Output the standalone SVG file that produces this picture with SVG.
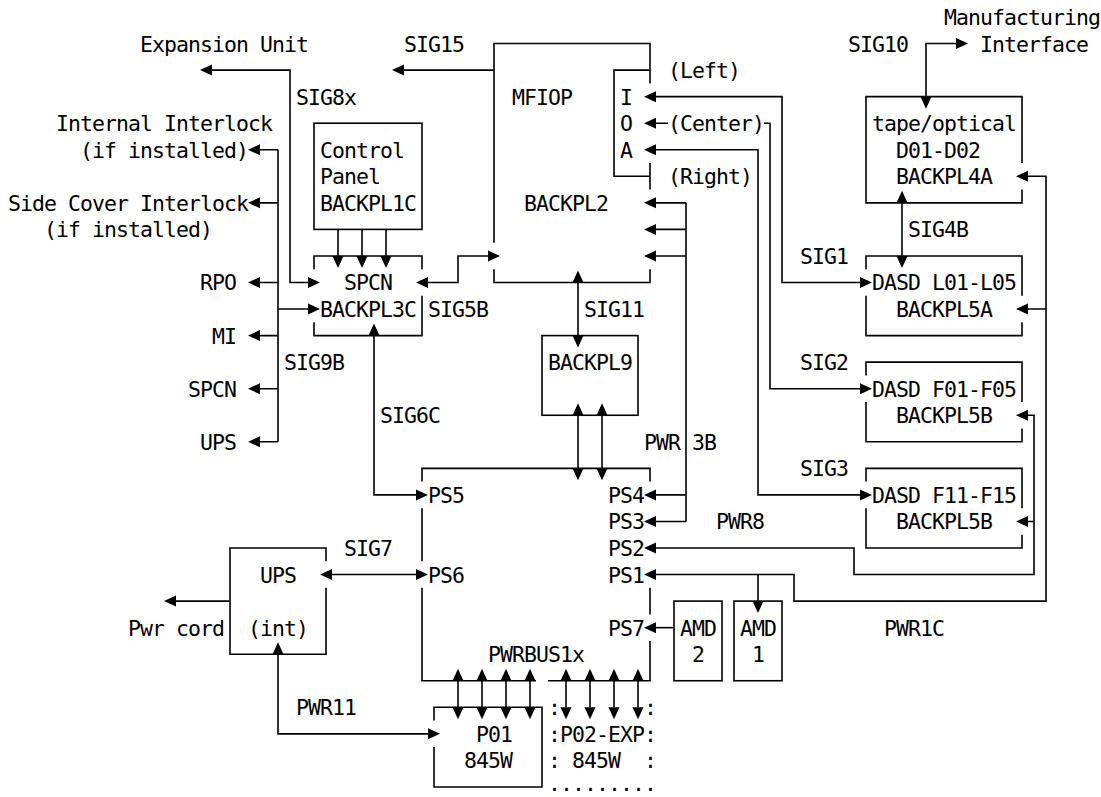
<svg xmlns="http://www.w3.org/2000/svg" width="1101" height="797" viewBox="0 0 1101 797">
<style>
text{font-family:"DejaVu Sans Mono","Liberation Mono",monospace;font-size:21.5px;letter-spacing:-0.94px;fill:#000}
.ln{fill:none;stroke:#000;stroke-width:1.6}
.bx{fill:none;stroke:#000;stroke-width:1.6}
.ah{fill:#000}
</style>
<defs>
<path id="aL" class="ah" d="M-6,0 L6,-5.5 L6,5.5 Z"/>
<path id="aR" class="ah" d="M6,0 L-6,-5.5 L-6,5.5 Z"/>
<path id="aU" class="ah" d="M0,-12 L-5.5,0 L5.5,0 Z"/>
<path id="aD" class="ah" d="M0,12 L-5.5,0 L5.5,0 Z"/>
</defs>
<rect width="1101" height="797" fill="#fff"/>

<g id="connectors">
<path class="ln" d="M206,70.1 H290 V282.5 H314"/>
<use href="#aL" x="206" y="70.1"/><use href="#aR" x="314" y="282.5"/>
<path class="ln" d="M278,149.75 V441.8 M254,149.75 H278 M254,202.85 H278 M254,282.5 H278 M278,309.05 H314 M254,335.6 H278 M254,388.7 H278 M254,441.8 H278"/>
<use href="#aL" x="254" y="149.75"/><use href="#aL" x="254" y="202.85"/><use href="#aL" x="254" y="282.5"/><use href="#aR" x="314" y="309.05"/><use href="#aL" x="254" y="335.6"/><use href="#aL" x="254" y="388.7"/><use href="#aL" x="254" y="441.8"/>
<path class="ln" d="M338,229.4 V255.95 M362,229.4 V255.95 M386,229.4 V255.95"/>
<use href="#aD" x="338" y="255.95"/><use href="#aD" x="362" y="255.95"/><use href="#aD" x="386" y="255.95"/>
<path class="ln" d="M398,70.1 H494"/>
<use href="#aL" x="398" y="70.1"/>
<path class="ln" d="M422,282.5 H458 V255.95 H494"/>
<use href="#aL" x="422" y="282.5"/><use href="#aR" x="494" y="255.95"/>
<path class="ln" d="M578,282.5 V335.6"/>
<use href="#aU" x="578" y="282.5"/><use href="#aD" x="578" y="335.6"/>
<path class="ln" d="M578,415.25 V468.35 M602,415.25 V468.35"/>
<use href="#aU" x="578" y="415.25"/><use href="#aU" x="602" y="415.25"/><use href="#aD" x="578" y="468.35"/><use href="#aD" x="602" y="468.35"/>
<path class="ln" d="M374,335.6 V494.9 H422"/>
<use href="#aU" x="374" y="335.6"/><use href="#aR" x="422" y="494.9"/>
<path class="ln" d="M686,202.85 V521.45 M650,202.85 H686 M650,229.4 H686 M650,255.95 H686 M650,494.9 H686 M650,521.45 H686"/>
<use href="#aL" x="650" y="202.85"/><use href="#aL" x="650" y="229.4"/><use href="#aL" x="650" y="255.95"/><use href="#aL" x="650" y="494.9"/><use href="#aL" x="650" y="521.45"/>
<path class="ln" d="M650,96.65 H782 V282.5 H866"/>
<use href="#aL" x="650" y="96.65"/><use href="#aR" x="866" y="282.5"/>
<path class="ln" d="M650,123.2 H668 M764,123.2 H770 V388.7 H866"/>
<use href="#aL" x="650" y="123.2"/><use href="#aR" x="866" y="388.7"/>
<path class="ln" d="M650,149.75 H758 V494.9 H866"/>
<use href="#aL" x="650" y="149.75"/><use href="#aR" x="866" y="494.9"/>
<path class="ln" d="M926,96.65 V43.55 H962"/>
<use href="#aD" x="926" y="96.65"/><use href="#aR" x="962" y="43.55"/>
<path class="ln" d="M902,202.85 V255.95"/>
<use href="#aU" x="902" y="202.85"/><use href="#aD" x="902" y="255.95"/>
<path class="ln" d="M650,548 H854 V574.55 H1034 V415.25 H1022 M1034,521.45 H1022"/>
<use href="#aL" x="650" y="548"/><use href="#aL" x="1022" y="415.25"/><use href="#aL" x="1022" y="521.45"/>
<path class="ln" d="M650,574.55 H794 V601.1 H1046 V176.3 H1022 M1046,309.05 H1022 M758,574.55 V601.1"/>
<use href="#aL" x="650" y="574.55"/><use href="#aL" x="1022" y="176.3"/><use href="#aL" x="1022" y="309.05"/><use href="#aD" x="758" y="601.1"/>
<path class="ln" d="M650,627.65 H674"/>
<use href="#aL" x="650" y="627.65"/>
<path class="ln" d="M326,574.55 H422"/>
<use href="#aL" x="326" y="574.55"/><use href="#aR" x="422" y="574.55"/>
<path class="ln" d="M170,601.1 H230"/>
<use href="#aL" x="170" y="601.1"/>
<path class="ln" d="M278,654.2 V733.85 H434"/>
<use href="#aU" x="278" y="654.2"/><use href="#aR" x="434" y="733.85"/>
<path class="ln" d="M458,680.75 V707.3 M482,680.75 V707.3 M506,680.75 V707.3 M530,680.75 V707.3 M566,680.75 V707.3 M590,680.75 V707.3 M614,680.75 V707.3 M638,680.75 V707.3"/>
<use href="#aU" x="458" y="680.75"/><use href="#aU" x="482" y="680.75"/><use href="#aU" x="506" y="680.75"/><use href="#aU" x="530" y="680.75"/><use href="#aU" x="566" y="680.75"/><use href="#aU" x="590" y="680.75"/><use href="#aU" x="614" y="680.75"/><use href="#aU" x="638" y="680.75"/>
<use href="#aD" x="458" y="707.3"/><use href="#aD" x="482" y="707.3"/><use href="#aD" x="506" y="707.3"/><use href="#aD" x="530" y="707.3"/><use href="#aD" x="566" y="707.3"/><use href="#aD" x="590" y="707.3"/><use href="#aD" x="614" y="707.3"/><use href="#aD" x="638" y="707.3"/>
</g>

<g id="labels">
<text x="944" y="24.9">Manufacturing</text>
<text x="980" y="51.5">Interface</text>
<text x="848" y="51.5">SIG10</text>
<text x="140" y="51.5">Expansion Unit</text>
<text x="404" y="51.5">SIG15</text>
<text x="668" y="78">(Left)</text>
<text x="296" y="104.6">SIG8x</text>
<text x="56" y="131.1">Internal Interlock</text>
<text x="668" y="131.1">(Center)</text>
<text x="80" y="157.6">(if installed)</text>
<text x="668" y="184.2">(Right)</text>
<text x="8" y="210.8">Side Cover Interlock</text>
<text x="44" y="237.3">(if installed)</text>
<text x="908" y="237.3">SIG4B</text>
<text x="800" y="263.9">SIG1</text>
<text x="200" y="290.4">RPO</text>
<text x="428" y="317">SIG5B</text>
<text x="584" y="317">SIG11</text>
<text x="212" y="343.5">MI</text>
<text x="284" y="370.1">SIG9B</text>
<text x="800" y="370.1">SIG2</text>
<text x="188" y="396.6">SPCN</text>
<text x="380" y="423.2">SIG6C</text>
<text x="644" y="449.7">PWR</text>
<text x="692" y="449.7">3B</text>
<text x="200" y="449.7">UPS</text>
<text x="800" y="476.3">SIG3</text>
<text x="716" y="529.4">PWR8</text>
<text x="344" y="555.9">SIG7</text>
<text x="128" y="635.6">Pwr cord</text>
<text x="884" y="635.6">PWR1C</text>
<text x="296" y="715.2">PWR11</text>
</g>

<g id="control-panel">
<rect class="bx" x="314" y="123.2" width="108" height="106.2"/>
<text x="320" y="157.6">Control</text>
<text x="320" y="184.2">Panel</text>
<text x="320" y="210.8">BACKPL1C</text>
</g>

<g id="spcn">
<path class="bx" d="M314,269.2 V255.95 H422 V269.2 M422,295.8 V335.6 H314 V322.3"/>
<text x="344" y="290.4">SPCN</text>
<text x="320" y="317">BACKPL3C</text>
</g>

<g id="mfiop">
<path class="bx" d="M494,242.7 V43.55 H650 V83.4 M650,163 V189.6 M650,269.2 V282.5 H494 V269.2 M650,70.1 H614 V176.3 H650"/>
<text x="512" y="104.6">MFIOP</text>
<text x="620" y="104.6">I</text>
<text x="620" y="131.1">O</text>
<text x="620" y="157.6">A</text>
<text x="524" y="210.8">BACKPL2</text>
</g>

<g id="backpl9">
<rect class="bx" x="542" y="335.6" width="96" height="79.65"/>
<text x="548" y="370.1">BACKPL9</text>
</g>

<g id="tape">
<path class="bx" d="M1022,163 V96.65 H866 V202.85 H1022 V189.6"/>
<text x="872" y="131.1">tape/optical</text>
<text x="896" y="157.6">D01-D02</text>
<text x="896" y="184.2">BACKPL4A</text>
</g>

<g id="dasd-l01">
<path class="bx" d="M866,269.2 V255.95 H1022 V295.8 M866,295.8 V335.6 H1022 V322.3"/>
<text x="872" y="290.4">DASD L01-L05</text>
<text x="896" y="317">BACKPL5A</text>
</g>

<g id="dasd-f01">
<path class="bx" d="M866,375.4 V362.15 H1022 V402 M866,402 V441.8 H1022 V428.5"/>
<text x="872" y="396.6">DASD F01-F05</text>
<text x="896" y="423.2">BACKPL5B</text>
</g>

<g id="dasd-f11">
<path class="bx" d="M866,481.6 V468.35 H1022 V508.2 M866,508.2 V548 H1022 V534.7"/>
<text x="872" y="502.8">DASD F11-F15</text>
<text x="896" y="529.4">BACKPL5B</text>
</g>

<g id="ps">
<path class="bx" d="M422,481.6 V468.35 H650 V481.6 M422,508.2 V561.3 M422,587.8 V680.75 H536 M548,680.75 H650 V640.9 M650,587.8 V614.4"/>
<text x="428" y="502.8">PS5</text>
<text x="608" y="502.8">PS4</text>
<text x="608" y="529.4">PS3</text>
<text x="608" y="555.9">PS2</text>
<text x="608" y="582.5">PS1</text>
<text x="428" y="582.5">PS6</text>
<text x="608" y="635.6">PS7</text>
<text x="488" y="662.1">PWRBUS1x</text>
</g>

<g id="ups">
<path class="bx" d="M326,561.3 V548 H230 V654.2 H326 V587.8"/>
<text x="260" y="582.5">UPS</text>
<text x="248" y="635.6">(int)</text>
</g>

<g id="amd2">
<rect class="bx" x="674" y="601.1" width="48" height="79.65"/>
<text x="680" y="635.6">AMD</text>
<text x="692" y="662.1">2</text>
</g>

<g id="amd1">
<rect class="bx" x="734" y="601.1" width="48" height="79.65"/>
<text x="740" y="635.6">AMD</text>
<text x="752" y="662.1">1</text>
</g>

<g id="p01">
<path class="bx" d="M434,720.6 V707.3 H542 V786.95 H434 V747.1"/>
<text x="476" y="741.8">P01</text>
<text x="464" y="768.3">845W</text>
</g>

<g id="p02-exp">
<text x="548" y="715.2">:</text>
<text x="644" y="715.2">:</text>
<text x="548" y="741.8">:P02-EXP:</text>
<text x="548" y="768.3">:</text>
<text x="572" y="768.3">845W</text>
<text x="644" y="768.3">:</text>
<text x="548" y="791">.........</text>
</g>
</svg>
